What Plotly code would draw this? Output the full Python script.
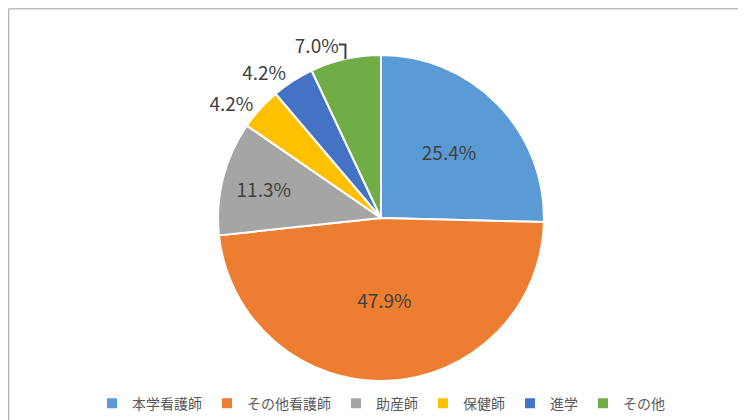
import plotly.graph_objects as go

labels = ["本学看護師", "その他看護師", "助産師", "保健師", "進学", "その他"]
values = [25.4, 47.9, 11.3, 4.2, 4.2, 7.0]
colors = ["#5B9BD5", "#ED7D31", "#A5A5A5", "#FFC000", "#4472C4", "#70AD47"]
positions = ["inside", "inside", "inside", "outside", "outside", "outside"]

fig = go.Figure(go.Pie(
    labels=labels, values=values, sort=False, direction="clockwise", rotation=0,
    marker=dict(colors=colors, line=dict(color="white", width=2)),
    texttemplate="%{value:.1f}%", textposition=positions,
    insidetextorientation="horizontal",
    textfont=dict(size=19, color="#404040", family="Noto Sans CJK JP"),
    domain=dict(x=[0, 1], y=[0.112, 0.888]),
    automargin=False,
))
fig.update_layout(
    width=746, height=420, margin=dict(l=0, r=0, t=0, b=0, autoexpand=False),
    paper_bgcolor="white", font=dict(family="Noto Sans CJK JP", color="#595959"),
    legend=dict(orientation="h", x=0.5, xanchor="center", y=0.02, yanchor="bottom",
                font=dict(size=14, color="#595959"), itemwidth=30,
                entrywidthmode="pixels", entrywidth=0,
                tracegroupgap=0, itemsizing="constant"),
    shapes=[dict(type="rect", xref="paper", yref="paper", x0=0.001, y0=0.002, x1=0.999, y1=0.998,
                 line=dict(color="#A0A0A0", width=1))],
)
fig.write_html("out.html")
